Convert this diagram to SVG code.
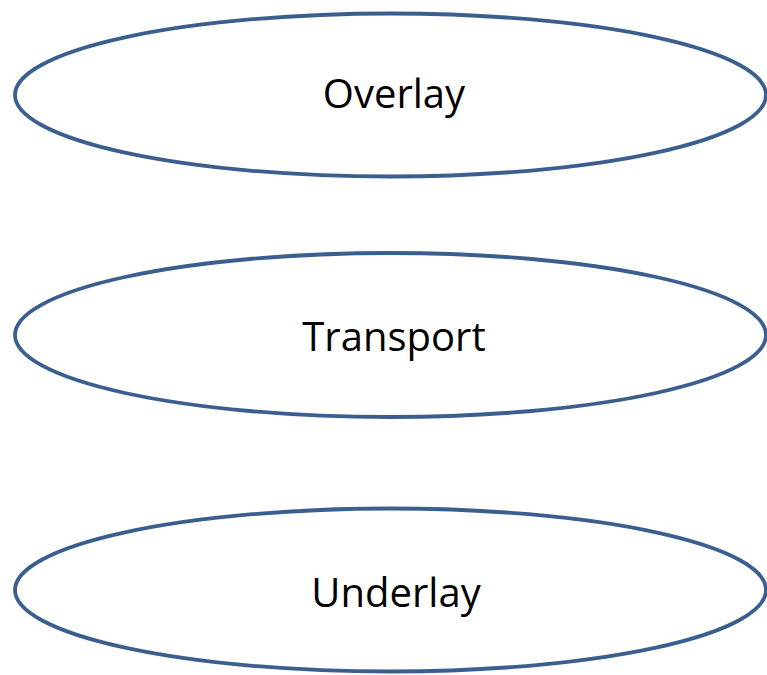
<svg xmlns="http://www.w3.org/2000/svg" width="767" height="675" viewBox="0 0 767 675">
<style>
.node ellipse { fill: #ffffff; stroke: #3A5F8F; stroke-width: 3.8; }
.node text { font-family: "Open Sans", "Liberation Sans", sans-serif; font-size: 40px; fill: #000000; text-anchor: middle; }
</style>
<rect width="767" height="675" fill="#ffffff"/>
<g id="overlay" class="node">
<ellipse cx="390.5" cy="95" rx="375.5" ry="81.5"/>
<text x="394" y="108">Overlay</text>
</g>
<g id="transport" class="node">
<ellipse cx="390.5" cy="335" rx="375.5" ry="82"/>
<text x="394" y="351">Transport</text>
</g>
<g id="underlay" class="node">
<ellipse cx="390.5" cy="590" rx="375.5" ry="81.5"/>
<text x="396" y="607">Underlay</text>
</g>
<g id="connectors"></g>
</svg>
